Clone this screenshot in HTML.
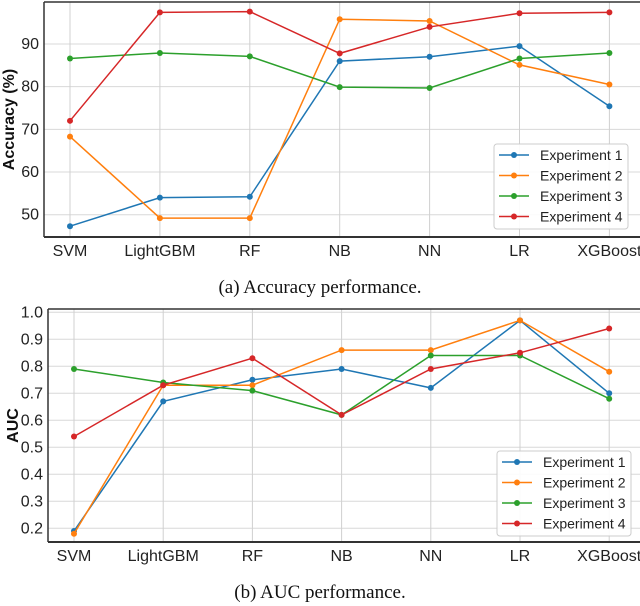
<!DOCTYPE html>
<html><head><meta charset="utf-8"><style>
body{margin:0;background:#fff;}
svg{display:block;font-family:"Liberation Sans",sans-serif;}
</style></head><body>
<svg id="c" width="640" height="606"></svg>
<script>
const categories=["SVM","LightGBM","RF","NB","NN","LR","XGBoost"];
const seriesNames=["Experiment 1","Experiment 2","Experiment 3","Experiment 4"];
const colors=["#1f77b4","#ff7f0e","#2ca02c","#d62728"];
const accExp1=[47.3,54,54.2,86,87,89.5,75.4];
const accExp2=[68.3,49.2,49.2,95.8,95.4,85.1,80.5];
const accExp3=[86.6,87.9,87.1,79.9,79.7,86.6,87.9];
const accExp4=[72,97.4,97.6,87.8,94,97.2,97.4];
const accTicks=[50,60,70,80,90];
const aucExp1=[0.19,0.67,0.75,0.79,0.72,0.97,0.70];
const aucExp2=[0.18,0.73,0.73,0.86,0.86,0.97,0.78];
const aucExp3=[0.79,0.74,0.71,0.62,0.84,0.84,0.68];
const aucExp4=[0.54,0.73,0.83,0.62,0.79,0.85,0.94];
const aucTicks=[0.2,0.3,0.4,0.5,0.6,0.7,0.8,0.9,1.0];
const NS="http://www.w3.org/2000/svg";
const svg=document.getElementById('c');
function el(t,a,p){const e=document.createElementNS(NS,t);for(const k in a)e.setAttribute(k,a[k]);(p||svg).appendChild(e);return e;}
function chart(o){
  const g=el('g',{});
  
  
  const x=i=>o.x0+i*o.dx;
  const y=v=>o.yA+(v-o.vA)*(o.yB-o.yA)/(o.vB-o.vA);
  o.ticks.forEach(t=>{
    el('line',{x1:o.left,x2:640,y1:y(t),y2:y(t),stroke:'#d8d8d8','stroke-width':1},g);
    const tx=el('text',{x:o.left-5,y:y(t)+5,'text-anchor':'end','font-size':16,fill:'#222'},g);
    tx.textContent=o.fmt(t);
    
    
  });
  categories.forEach((c,i)=>{
    el('line',{x1:x(i),x2:x(i),y1:o.top,y2:o.bottom,stroke:'#d0d0d0','stroke-width':1},g);
    const tx=el('text',{x:x(i),y:o.bottom+19,'text-anchor':'middle','font-size':16,fill:'#222'},g);
    tx.textContent=c;
    
    
  });
  el('line',{x1:o.left,x2:640,y1:o.top,y2:o.top,stroke:'#333','stroke-width':1.5},g);
  el('line',{x1:o.left,x2:o.left,y1:o.top,y2:o.bottom,stroke:'#333','stroke-width':1.5},g);
  el('line',{x1:o.left,x2:640,y1:o.bottom,y2:o.bottom,stroke:'#333','stroke-width':2},g);
  const yt=el('text',{x:0,y:0,transform:`translate(${o.left-30},${(o.top+o.bottom)/2}) rotate(-90)`,'text-anchor':'middle','font-size':16,'font-weight':'bold',fill:'#111'},g);
  yt.textContent=o.ytitle;
  
  
  o.series.forEach((s,k)=>{
    const pl=el('polyline',{points:s.map((v,i)=>x(i)+','+y(v)).join(' '),fill:'none',stroke:colors[k],'stroke-width':1.5},g);
    
    
    s.forEach((v,i)=>{
      const c=el('circle',{cx:x(i),cy:y(v),r:3,fill:colors[k]},g);
      
      
    });
  });
  const L=o.leg;
  const lg=el('g',{},g);
  
  
  el('rect',{x:L[0],y:L[1],width:134,height:85,rx:3,fill:'#fff','fill-opacity':0.9,stroke:'#ccc'},lg);
  seriesNames.forEach((n,k)=>{
    const yy=L[1]+11+k*20.5;
    el('line',{x1:L[0]+5,x2:L[0]+35,y1:yy,y2:yy,stroke:colors[k],'stroke-width':1.5},lg);
    el('circle',{cx:L[0]+20,cy:yy,r:3,fill:colors[k]},lg);
    const t=el('text',{x:L[0]+46,y:yy+5,'font-size':14,fill:'#222'},lg);
    t.textContent=n;
    
    
  });
  const cap=el('text',{x:o.capx,y:o.capy,'text-anchor':'middle','font-size':19,'font-family':'"Liberation Serif",serif',fill:'#111'});
  cap.textContent=o.caption;
  
  
}
chart({name:'accuracy-chart',left:44,top:2,bottom:237,x0:70,dx:89.9,yA:44,vA:90,yB:214.7,vB:50,
  ticks:accTicks,fmt:t=>String(t),ytitle:'Accuracy (%)',series:[accExp1,accExp2,accExp3,accExp4],
  leg:[494,144],caption:'(a) Accuracy performance.',capx:320,capy:293});
chart({name:'auc-chart',left:48,top:309,bottom:542,x0:74,dx:89.2,yA:312.3,vA:1.0,yB:528.3,vB:0.2,
  ticks:aucTicks,fmt:t=>t.toFixed(1),ytitle:'AUC',series:[aucExp1,aucExp2,aucExp3,aucExp4],
  leg:[497,451],caption:'(b) AUC performance.',capx:320,capy:598});
</script>
</body></html>
